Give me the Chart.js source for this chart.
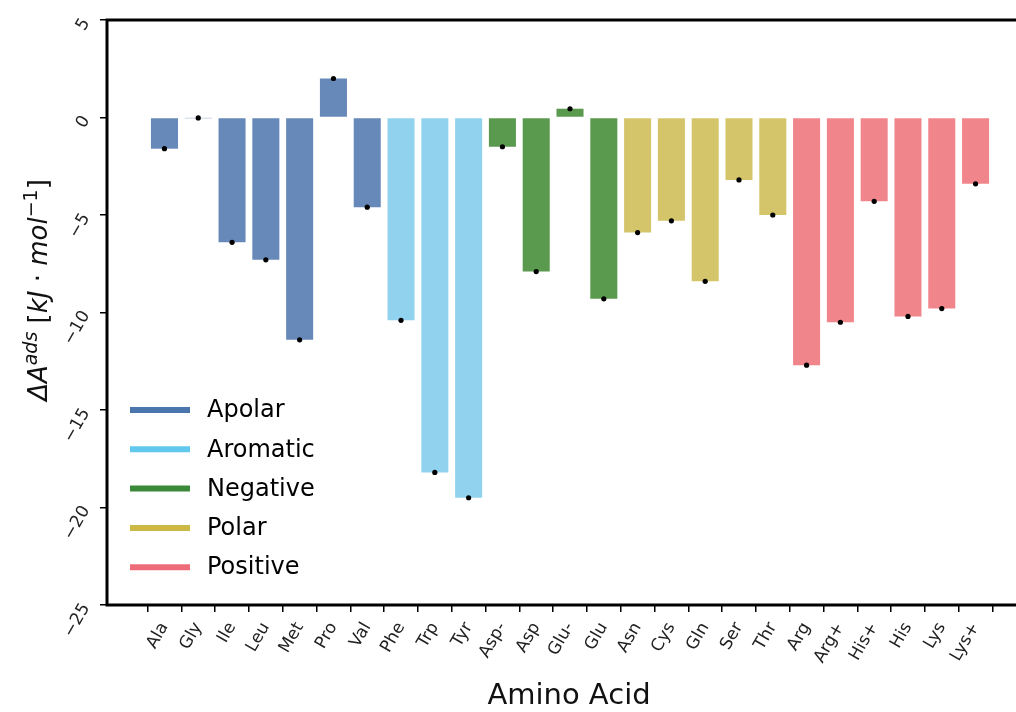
<!DOCTYPE html>
<html>
<head>
<meta charset="utf-8">
<script src="https://cdn.jsdelivr.net/npm/chart.js@4.4.0/dist/chart.umd.min.js"></script>
<style>
  html, body { margin: 0; padding: 0; background: #fff; overflow: hidden; }
  canvas { display: block; }
</style>
</head>
<body>
<canvas id="chart" width="1040" height="712"></canvas>
<script>
// Data
const aminoAcids = ['Ala', 'Gly', 'Ile', 'Leu', 'Met', 'Pro', 'Val',
    'Phe', 'Trp', 'Tyr',
    'Asp-', 'Asp', 'Glu-', 'Glu',
    'Asn', 'Cys', 'Gln', 'Ser', 'Thr',
    'Arg', 'Arg+', 'His+', 'His', 'Lys', 'Lys+'];
const groups = ['Apolar', 'Apolar', 'Apolar', 'Apolar', 'Apolar', 'Apolar', 'Apolar',
    'Aromatic', 'Aromatic', 'Aromatic',
    'Negative', 'Negative', 'Negative', 'Negative',
    'Polar', 'Polar', 'Polar', 'Polar', 'Polar',
    'Positive', 'Positive', 'Positive', 'Positive', 'Positive', 'Positive'];
const adsorption = [-1.6, -0.02, -6.4, -7.3, -11.4, 2.0, -4.6,
    -10.4, -18.2, -19.5,
    -1.5, -7.9, 0.45, -9.3,
    -5.9, -5.3, -8.4, -3.2, -5.0,
    -12.7, -10.5, -4.3, -10.2, -9.8, -3.4];
const groupNames = ['Apolar', 'Aromatic', 'Negative', 'Polar', 'Positive'];
const yTicks = [5, 0, -5, -10, -15, -20, -25];

// Colours per group (bars are a lighter tint than the legend lines)
const barColors = {
    Apolar: '#6689b9',
    Aromatic: '#91d3ee',
    Negative: '#5a9a4e',
    Polar: '#d4c56a',
    Positive: '#f0868c'
};
const lineColors = {
    Apolar: '#4a76ad',
    Aromatic: '#62c8ee',
    Negative: '#3a8a3a',
    Polar: '#cdb846',
    Positive: '#ee6b7a'
};

const FONT = "'DejaVu Sans', sans-serif";

// Frame, legend and y title
const extras = {
    id: 'extras',
    afterDatasetsDraw(chart) {
        const { ctx, chartArea: a } = chart;
        ctx.save();
        ctx.strokeStyle = '#000';
        ctx.lineWidth = 3;
        ctx.strokeRect(a.left, a.top, a.right - a.left, a.bottom - a.top);

        // legend
        ctx.font = `24px ${FONT}`;
        ctx.textBaseline = 'middle';
        ctx.textAlign = 'left';
        groupNames.forEach((g, i) => {
            const y = a.top + 390 + i * 39.3;
            ctx.strokeStyle = lineColors[g];
            ctx.lineWidth = 6;
            ctx.beginPath();
            ctx.moveTo(a.left + 23, y);
            ctx.lineTo(a.left + 83, y);
            ctx.stroke();
            ctx.fillStyle = '#000';
            ctx.fillText(g, a.left + 100, y + 1);
        });

        // y axis title with superscripts
        ctx.translate(38, 290);
        ctx.rotate(-Math.PI / 2);
        const parts = [
            { t: 'ΔA', sup: false, it: true },
            { t: 'ads', sup: true, it: true },
            { t: ' [', sup: false, it: false },
            { t: 'kJ', sup: false, it: true },
            { t: ' · ', sup: false, it: false },
            { t: 'mol', sup: false, it: true },
            { t: '−1', sup: true, it: false },
            { t: ']', sup: false, it: false }
        ];
        const fontFor = p => `${p.it ? 'italic ' : ''}${p.sup ? 19 : 26}px ${FONT}`;
        let total = 0;
        parts.forEach(p => { ctx.font = fontFor(p); total += ctx.measureText(p.t).width; });
        let x = -total / 2;
        ctx.fillStyle = '#111';
        ctx.textBaseline = 'alphabetic';
        parts.forEach(p => {
            ctx.font = fontFor(p);
            ctx.fillText(p.t, x, p.sup ? -1 : 9);
            x += ctx.measureText(p.t).width;
        });
        ctx.restore();
    }
};

const barData = adsorption.map((v, i) => ({ x: i, y: v }));

new Chart(document.getElementById('chart'), {
    type: 'bar',
    data: {
        datasets: [
            {
                type: 'bar',
                data: barData,
                backgroundColor: groups.map(g => barColors[g]),
                borderWidth: 0,
                barPercentage: 0.8,
                categoryPercentage: 1.0,
                order: 2
            },
            {
                type: 'scatter',
                data: barData,
                pointRadius: 2.6,
                pointBackgroundColor: '#000',
                pointBorderWidth: 0,
                order: 1
            }
        ]
    },
    plugins: [extras],
    options: {
        responsive: false,
        animation: false,
        layout: { padding: { top: 20, right: 9, left: 0, bottom: 0 } },
        plugins: {
            legend: { display: false },
            tooltip: { enabled: false }
        },
        scales: {
            x: {
                type: 'linear',
                min: -1.7,
                max: 25.64,
                offset: false,
                afterBuildTicks: s => { s.ticks = aminoAcids.map((_, i) => ({ value: i })); },
                afterFit: s => { s.height = 107; s.paddingLeft = 0; s.paddingRight = 0; },
                border: { display: false },
                grid: { display: true, drawOnChartArea: false, tickLength: 7, color: '#000', lineWidth: 1.5 },
                ticks: {
                    autoSkip: false,
                    minRotation: 60,
                    maxRotation: 60,
                    padding: 7,
                    color: '#222',
                    font: { family: FONT, size: 17 },
                    callback: v => aminoAcids[v]
                },
                title: {
                    display: true,
                    text: 'Amino Acid',
                    color: '#111',
                    font: { family: FONT, size: 29, lineHeight: 1.1 },
                    padding: { top: 0, bottom: 0 }
                }
            },
            y: {
                min: -25,
                max: 5,
                afterBuildTicks: s => { s.ticks = yTicks.map(v => ({ value: v })); },
                afterFit: s => { s.width = 107; s.paddingTop = 0; s.paddingBottom = 0; },
                border: { display: false },
                grid: { display: true, drawOnChartArea: false, tickLength: 7, color: '#000', lineWidth: 1.5 },
                ticks: {
                    minRotation: 60,
                    maxRotation: 60,
                    padding: 14,
                    color: '#222',
                    font: { family: FONT, size: 17 },
                    callback: v => v < 0 ? '\u2212' + Math.abs(v) : String(v)
                }
            }
        }
    }
});
</script>
</body>
</html>
